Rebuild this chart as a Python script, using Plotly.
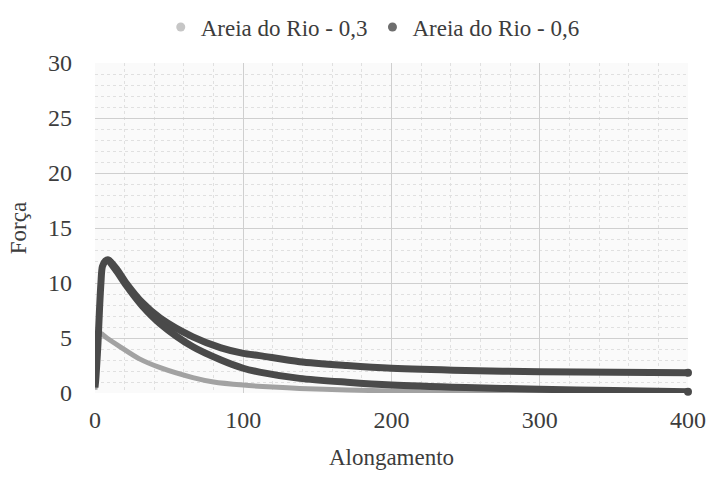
import plotly.graph_objects as go

# Areia do Rio - 0,3
light_x = [0, 0.5, 1, 1.5, 2.5, 4, 8, 17, 30, 44, 66, 80, 100, 120, 138, 170, 200, 250, 300, 350, 400]
light_y = [0.3, 1.5, 3.0, 4.5, 5.3, 5.4, 5.0, 4.2, 3.1, 2.3, 1.4, 1.0, 0.72, 0.54, 0.42, 0.28, 0.18, 0.1, 0.06, 0.04, 0.03]

# Areia do Rio - 0,6: loading rise, then two decay branches from the peak
dark_rise_x = [0, 0.5, 1, 2, 3, 4, 5, 7, 9]
dark_rise_y = [0.5, 1.2, 2.2, 4.5, 7.5, 10.0, 11.5, 12.0, 12.1]
dark_upper_x = [9, 15, 21, 32, 44, 66, 85, 100, 111, 138, 170, 200, 250, 300, 350, 400]
dark_upper_y = [12.1, 11.2, 10.0, 8.2, 6.8, 5.1, 4.1, 3.6, 3.4, 2.85, 2.5, 2.25, 2.05, 1.94, 1.88, 1.85]
dark_lower_x = [9, 15, 21, 32, 44, 66, 85, 100, 111, 138, 170, 200, 250, 300, 350, 400]
dark_lower_y = [12.1, 11.0, 9.8, 7.9, 6.3, 4.2, 3.0, 2.25, 1.9, 1.33, 0.98, 0.73, 0.5, 0.34, 0.22, 0.12]

series_names = ["Areia do Rio - 0,3", "Areia do Rio - 0,6"]
x_ticks = [0, 100, 200, 300, 400]
y_ticks = [0, 5, 10, 15, 20, 25, 30]

LIGHT = "#a2a2a2"
DARK = "#4a4a4a"
FONT = "Liberation Serif, Times New Roman, DejaVu Serif, serif"
TEXT = "#3c3c3c"

fig = go.Figure()

fig.add_trace(go.Scatter(
    x=light_x, y=light_y, mode="lines",
    line=dict(color=LIGHT, width=5, shape="spline", smoothing=0.8),
    showlegend=False, cliponaxis=False,
))

dark_x = dark_rise_x + dark_upper_x[1:] + [None] + dark_lower_x
dark_y = dark_rise_y + dark_upper_y[1:] + [None] + dark_lower_y
fig.add_trace(go.Scatter(
    x=dark_x, y=dark_y, mode="lines",
    line=dict(color=DARK, width=7, shape="spline", smoothing=0.8),
    showlegend=False, cliponaxis=False,
))

# end caps at the last reading of each branch
fig.add_trace(go.Scatter(
    x=[dark_upper_x[-1], dark_lower_x[-1]], y=[dark_upper_y[-1], dark_lower_y[-1]],
    mode="markers", marker=dict(color=DARK, size=8),
    showlegend=False, cliponaxis=False,
))

# legend entries
fig.add_trace(go.Scatter(x=[None], y=[None], mode="markers", name=series_names[0],
                         marker=dict(color="#c6c6c6", size=9)))
fig.add_trace(go.Scatter(x=[None], y=[None], mode="markers", name=series_names[1],
                         marker=dict(color="#6e6e6e", size=9)))

grid_minor = dict(showgrid=True, gridcolor="#e0e0e0", griddash="dot", gridwidth=1)

fig.update_layout(
    width=710, height=483,
    margin=dict(l=95, r=22, t=63, b=90, autoexpand=False),
    paper_bgcolor="white", plot_bgcolor="#fafafa",
    font=dict(family=FONT, color=TEXT, size=24),
    legend=dict(orientation="h", xref="container", x=0.525, xanchor="center",
                yref="container", y=0.944, yanchor="middle",
                font=dict(family=FONT, size=23, color=TEXT),
                itemwidth=30, tracegroupgap=0, bgcolor="rgba(0,0,0,0)"),
    xaxis=dict(
        range=[0, 400], tickvals=x_ticks, ticktext=[str(v) for v in x_ticks],
        tickfont=dict(family=FONT, size=24, color=TEXT), automargin=False,
        showgrid=True, gridcolor="#cfcfcf", gridwidth=1.3,
        zeroline=False, showline=False, ticks="", ticklabelstandoff=10,
        minor=dict(dtick=20, **grid_minor),
        title=dict(text="Alongamento", font=dict(family=FONT, size=23, color=TEXT), standoff=16),
    ),
    yaxis=dict(
        range=[0, 30], tickvals=y_ticks, ticktext=[str(v) for v in y_ticks],
        tickfont=dict(family=FONT, size=24, color=TEXT), automargin=False,
        showgrid=True, gridcolor="#cfcfcf", gridwidth=1.3,
        zeroline=False, showline=False, ticks="", ticklabelstandoff=22,
        minor=dict(dtick=1, **grid_minor),
        title=dict(text="Força", font=dict(family=FONT, size=23, color=TEXT), standoff=14),
    ),
)

fig.write_html("out.html")
